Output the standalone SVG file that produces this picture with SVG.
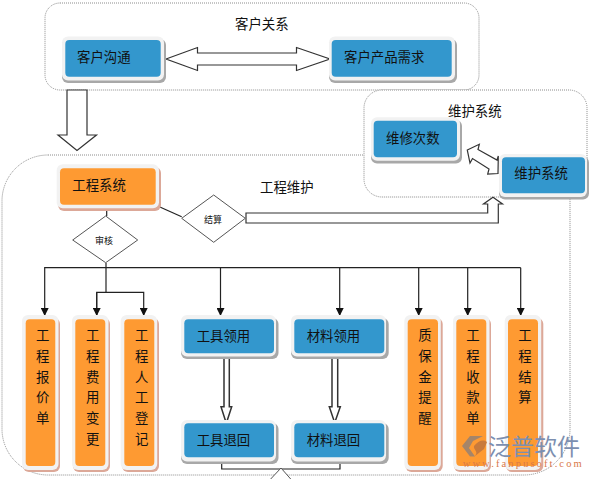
<svg xmlns="http://www.w3.org/2000/svg" width="591" height="479" viewBox="0 0 591 479">
<defs>
<marker id="ah" markerUnits="userSpaceOnUse" markerWidth="9" markerHeight="8" refX="8" refY="4" orient="auto"><path d="M0 0L8 4L0 8Z" fill="#111"/></marker>
</defs>
<style>
text{font-family:"Noto Sans CJK SC","Liberation Sans",sans-serif;font-size:13.400px;fill:#111}
.halo{fill:#f2f2f2}
.sb{fill:#a8a8a8}
.so{fill:#dca898}
.blue{fill:#3397cd}
.org{fill:#fe9a32}
.grp{fill:#fff;stroke:#8c8c8c;stroke-width:1;stroke-dasharray:1 1}
.ln{fill:none;stroke:#222;stroke-width:1.200}
.big{fill:#fff;stroke:#333;stroke-width:1.200}
.dia{fill:#fff;stroke:#555;stroke-width:1}
.v{text-anchor:middle}
.sm{font-size:9px}
</style>
<rect width="591" height="479" fill="#fff"/>
<g id="group-engineering"><rect class="grp" x="2" y="155" width="568" height="320" rx="46"/></g>
<g id="group-customer"><rect class="grp" x="45" y="3" width="434" height="87" rx="15"/>
<text x="235" y="29">客户关系</text></g>
<g id="group-maintenance"><rect class="grp" x="364" y="90" width="223" height="107" rx="18"/>
<text x="448" y="116">维护系统</text></g>
<text x="260" y="192">工程维护</text>
<g id="connectors">
<path class="big" d="M67 90H87V135H96.500L77 150.500L58 135H67Z"/>
<path class="big" d="M166 59L197.500 47.500V53H296.500V47.500L330 59L296.500 70.500V65H197.500V70.500Z"/>
<path class="big" d="M467.300 150L479.300 144.300L478 149.500L497 160L498.300 156L498 173.500L487.700 174L489 169L472.500 158.500L470 163Z"/>
<path class="big" d="M246 213H487.700V204H483.500L493 197.300L502.500 204H498.300V223H246Z"/>
<path class="ln" d="M159.300 206.700L181.700 216.700"/>
<path class="ln" d="M106.700 206.700V216"/>
<path class="ln" d="M106 263V292.300"/>
<path class="ln" marker-end="url(#ah)" d="M106 267.700H44.700V316"/>
<path class="ln" marker-end="url(#ah)" d="M96.700 316V292.300H143.700V316"/>
<path class="ln" marker-end="url(#ah)" d="M96.700 292.300V316"/>
<path class="ln" marker-end="url(#ah)" d="M220.500 267.700V316"/>
<path class="ln" d="M106 267.700H520.700"/>
<path class="ln" marker-end="url(#ah)" d="M339.700 267.700V316"/>
<path class="ln" marker-end="url(#ah)" d="M418.700 267.700V316"/>
<path class="ln" marker-end="url(#ah)" d="M467.700 267.700V316"/>
<path class="ln" marker-end="url(#ah)" d="M520.700 267.700V316"/>
<path class="big" style="stroke-width:1.500" d="M224 357.500H229.300V406.700H231.700L226.300 423.300L221 406.700H224Z"/>
<path class="big" style="stroke-width:1.500" d="M332 357.500H337.700V406.700H340.300L334.700 422.700L329.300 406.700H332Z"/>
<path class="ln" d="M221.700 460V469H340V460"/>
<path class="dia" d="M270.700 479L281 468L290.700 479"/>
</g>
<g id="n-kehugoutong"><rect class="sb" x="62" y="39" width="104" height="44" rx="6"/><rect class="halo" x="62" y="36.500" width="102" height="44" rx="6"/><rect class="blue" x="65.300" y="40" width="95.400" height="36.700" rx="4"/><text x="77" y="62">客户沟通</text></g>
<g id="n-kehuxuqiu"><rect class="sb" x="329" y="39" width="128" height="44" rx="6"/><rect class="halo" x="329" y="36.500" width="126" height="44" rx="6"/><rect class="blue" x="331.700" y="40" width="120" height="36.700" rx="4"/><text x="344" y="62">客户产品需求</text></g>
<g id="n-weixiu"><rect class="sb" x="371" y="120" width="91" height="43.500" rx="6"/><rect class="halo" x="371" y="117.300" width="89" height="43.500" rx="6"/><rect class="blue" x="373.700" y="120.700" width="83.300" height="36.600" rx="4"/><text x="386" y="143">维修次数</text></g>
<g id="n-weihu"><rect class="sb" x="499" y="156.500" width="90" height="43" rx="6"/><rect class="halo" x="499" y="154" width="88" height="43" rx="6"/><rect class="blue" x="502" y="157.300" width="83" height="36" rx="4"/><text x="514.300" y="178">维护系统</text></g>
<g id="n-gongcheng"><rect class="so" x="58" y="167" width="103" height="44" rx="6"/><rect class="halo" x="56.700" y="164.300" width="102.300" height="44" rx="6"/><rect class="org" x="60" y="168.300" width="95.700" height="36.400" rx="4"/><text x="72.300" y="190">工程系统</text></g>
<g id="n-shenhe"><path class="dia" d="M105.700 216L137.700 240L105.700 262.700L72.700 240Z"/><text x="104" y="244" class="v sm">审核</text></g>
<g id="n-jiesuan"><path class="dia" d="M213.700 195L245.300 218.300L213.700 242.300L181.700 218.300Z"/><text x="213" y="223" class="v sm">结算</text></g>
<g id="n-baojia"><rect class="so" x="23" y="318" width="37" height="154" rx="6"/><rect class="halo" x="22" y="315" width="36.500" height="155" rx="6"/><rect class="org" x="25.700" y="319.300" width="29.600" height="146.700" rx="4"/><text class="v"><tspan x="42.700" y="340">工</tspan><tspan x="42.700" y="361">程</tspan><tspan x="42.700" y="382">报</tspan><tspan x="42.700" y="402">价</tspan><tspan x="42.700" y="423">单</tspan></text></g>
<g id="n-feiyong"><rect class="so" x="73" y="318" width="37" height="154" rx="6"/><rect class="halo" x="72" y="315" width="36.500" height="155" rx="6"/><rect class="org" x="75.300" y="319.300" width="30" height="146.700" rx="4"/><text class="v"><tspan x="92.700" y="340">工</tspan><tspan x="92.700" y="361">程</tspan><tspan x="92.700" y="382">费</tspan><tspan x="92.700" y="402">用</tspan><tspan x="92.700" y="423">变</tspan><tspan x="92.700" y="444">更</tspan></text></g>
<g id="n-rengong"><rect class="so" x="122" y="318" width="37" height="154" rx="6"/><rect class="halo" x="120.700" y="315" width="36.500" height="155" rx="6"/><rect class="org" x="124.300" y="319.300" width="30" height="146.700" rx="4"/><text class="v"><tspan x="141.700" y="340">工</tspan><tspan x="141.700" y="361">程</tspan><tspan x="141.700" y="382">人</tspan><tspan x="141.700" y="402">工</tspan><tspan x="141.700" y="423">登</tspan><tspan x="141.700" y="444">记</tspan></text></g>
<g id="n-gjly"><rect class="sb" x="181" y="318" width="97.500" height="41" rx="6"/><rect class="halo" x="181" y="315" width="95" height="41.500" rx="6"/><rect class="blue" x="184.300" y="319.300" width="89.700" height="34" rx="4"/><text x="196.700" y="341">工具领用</text></g>
<g id="n-clly"><rect class="sb" x="291" y="318" width="97.700" height="41" rx="6"/><rect class="halo" x="291" y="315" width="95" height="41.500" rx="6"/><rect class="blue" x="294.300" y="319.300" width="90" height="34" rx="4"/><text x="306.700" y="341">材料领用</text></g>
<g id="n-gjth"><rect class="sb" x="181" y="423" width="97.500" height="41" rx="6"/><rect class="halo" x="181" y="420" width="95" height="41.500" rx="6"/><rect class="blue" x="184.300" y="423.300" width="89.700" height="34" rx="4"/><text x="196.700" y="445">工具退回</text></g>
<g id="n-clth"><rect class="sb" x="291" y="423" width="97.700" height="41" rx="6"/><rect class="halo" x="291" y="420" width="95" height="41.500" rx="6"/><rect class="blue" x="294.300" y="423.300" width="90" height="34" rx="4"/><text x="306.700" y="445">材料退回</text></g>
<g id="n-zhibao"><rect class="so" x="405.500" y="318" width="37.200" height="154" rx="6"/><rect class="halo" x="404.300" y="315" width="36.500" height="155" rx="6"/><rect class="org" x="407.700" y="319.300" width="30.300" height="146.700" rx="4"/><text class="v"><tspan x="425" y="340">质</tspan><tspan x="425" y="361">保</tspan><tspan x="425" y="382">金</tspan><tspan x="425" y="402">提</tspan><tspan x="425" y="423">醒</tspan></text></g>
<g id="n-shoukuan"><rect class="so" x="454" y="318" width="37" height="154" rx="6"/><rect class="halo" x="453" y="315" width="36.500" height="155" rx="6"/><rect class="org" x="456.300" y="319.300" width="30" height="146.700" rx="4"/><text class="v"><tspan x="473" y="340">工</tspan><tspan x="473" y="361">程</tspan><tspan x="473" y="382">收</tspan><tspan x="473" y="402">款</tspan><tspan x="473" y="423">单</tspan></text></g>
<g id="n-jiesuan2"><rect class="so" x="506" y="318" width="37.300" height="154" rx="6"/><rect class="halo" x="504.700" y="315" width="36.500" height="155" rx="6"/><rect class="org" x="508" y="319.300" width="30" height="146.700" rx="4"/><text class="v"><tspan x="525" y="340">工</tspan><tspan x="525" y="361">程</tspan><tspan x="525" y="382">结</tspan><tspan x="525" y="402">算</tspan></text></g>
<g id="watermark"><path d="M462 446L470 436H483L473 441L469 448L475 456.500H470Z" fill="#a5856a"/><path d="M474 446C478 441 483 439 487 442L484 449L475 456C479 451 473 450 474 446Z" fill="#c87a3c"/>
<text x="488" y="455" style="font-size:23px;fill:#7c8fb0">泛普软件</text>
<text x="462.700" y="466.700" textLength="119" style="font-family:'Liberation Serif',serif;font-size:10.500px;fill:#d9784a">www.fanpusoft.com</text></g>
</svg>
